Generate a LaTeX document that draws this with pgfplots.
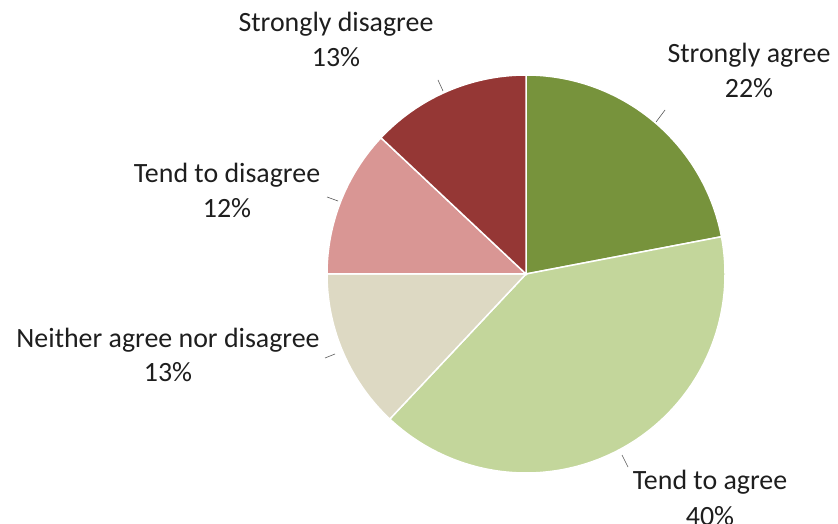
\documentclass[border=0pt]{standalone}
\usepackage{fontspec}
\setmainfont{Carlito}
\usepackage{pgfplots}
\pgfplotsset{compat=1.18}
\definecolor{cSA}{HTML}{77933C}
\definecolor{cTA}{HTML}{C3D69B}
\definecolor{cN}{HTML}{DDD9C3}
\definecolor{cTD}{HTML}{D99694}
\definecolor{cSD}{HTML}{953735}
\definecolor{txt}{HTML}{1E1E1E}
% shares (percent), clockwise from 12 o'clock
\def\vSA{22}\def\vTA{40}\def\vN{13}\def\vTD{12}\def\vSD{13}
\def\cx{526}\def\cy{250}\def\rr{199}
\newcommand{\lab}[5]{%
  \node[anchor=base,text=txt,font=\fontsize{28}{34}\selectfont] at (axis cs:#1,{524-#2}) {#4};
  \node[anchor=base,text=txt,font=\fontsize{28}{34}\selectfont] at (axis cs:#1,{524-#3}) {#5};}
\begin{document}
\begin{tikzpicture}
\pgfmathsetmacro{\aA}{90}
\pgfmathsetmacro{\aB}{\aA-3.6*\vSA}
\pgfmathsetmacro{\aC}{\aB-3.6*\vTA}
\pgfmathsetmacro{\aD}{\aC-3.6*\vN}
\pgfmathsetmacro{\aE}{\aD-3.6*\vTD}
\pgfmathsetmacro{\aF}{\aE-3.6*\vSD}
\begin{axis}[
  at={(0,0)}, anchor=south west,
  scale only axis, width=838bp, height=524bp,
  xmin=0, xmax=838, ymin=0, ymax=524,
  hide axis, clip=false,
]
\addplot[fill=cSA, draw=white, line width=1.5pt, domain=\aB:\aA, samples=80, variable=\t]
  ({\cx+\rr*cos(\t)}, {\cy+\rr*sin(\t)}) -- (axis cs:\cx,\cy) -- cycle;
\addplot[fill=cTA, draw=white, line width=1.5pt, domain=\aC:\aB, samples=120, variable=\t]
  ({\cx+\rr*cos(\t)}, {\cy+\rr*sin(\t)}) -- (axis cs:\cx,\cy) -- cycle;
\addplot[fill=cN, draw=white, line width=1.5pt, domain=\aD:\aC, samples=60, variable=\t]
  ({\cx+\rr*cos(\t)}, {\cy+\rr*sin(\t)}) -- (axis cs:\cx,\cy) -- cycle;
\addplot[fill=cTD, draw=white, line width=1.5pt, domain=\aE:\aD, samples=60, variable=\t]
  ({\cx+\rr*cos(\t)}, {\cy+\rr*sin(\t)}) -- (axis cs:\cx,\cy) -- cycle;
\addplot[fill=cSD, draw=white, line width=1.5pt, domain=\aF:\aE, samples=60, variable=\t]
  ({\cx+\rr*cos(\t)}, {\cy+\rr*sin(\t)}) -- (axis cs:\cx,\cy) -- cycle;
% leader lines
\addplot[gray!70!black, line width=0.6pt] coordinates {(656,402) (665,414)};
\addplot[gray!70!black, line width=0.6pt] coordinates {(622,69) (628,57)};
\addplot[gray!70!black, line width=0.6pt] coordinates {(325,166) (335,170)};
\addplot[gray!70!black, line width=0.6pt] coordinates {(327,327) (338,323)};
\addplot[gray!70!black, line width=0.6pt] coordinates {(438,444) (443,433)};
\lab{749}{63}{98}{Strongly agree}{\vSA\%}
\lab{710}{490}{525}{Tend to agree}{\vTA\%}
\lab{168}{348}{382}{Neither agree nor disagree}{\vN\%}
\lab{227}{183}{218}{Tend to disagree}{\vTD\%}
\lab{336}{32}{67}{Strongly disagree}{\vSD\%}
\end{axis}
\pgfresetboundingbox
\path[use as bounding box] (0,0) rectangle (838bp,524bp);
\end{tikzpicture}
\end{document}
